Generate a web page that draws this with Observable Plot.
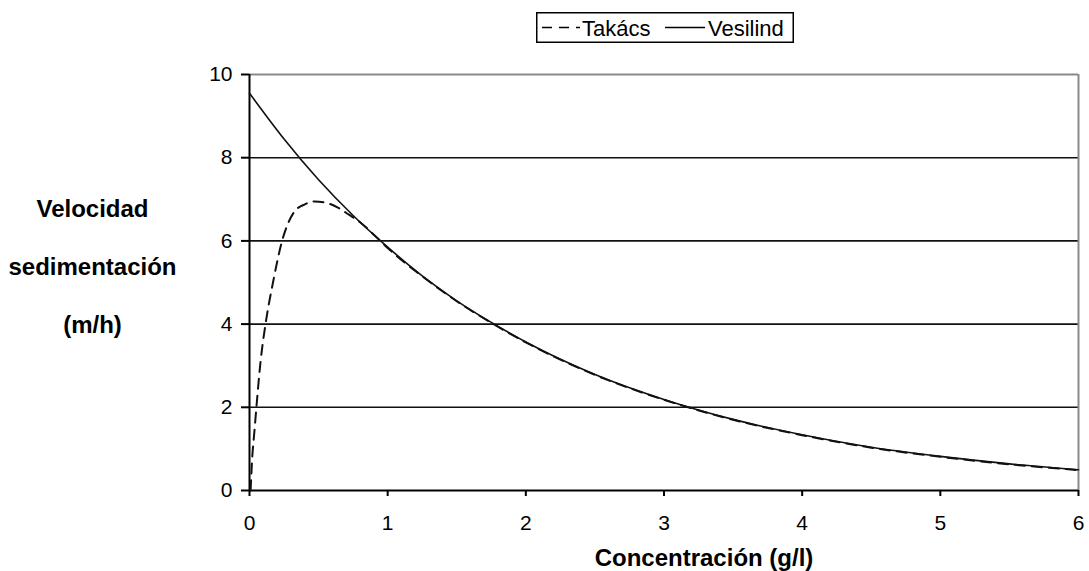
<!DOCTYPE html>
<html>
<head>
<meta charset="utf-8">
<script src="https://cdn.jsdelivr.net/npm/d3@7"></script>
<script src="https://cdn.jsdelivr.net/npm/@observablehq/plot@0.6"></script>
<style>
  body { margin: 0; background: #fff; font-family: "Liberation Sans", Arial, sans-serif; }
  #wrap { position: relative; width: 1089px; height: 571px; overflow: hidden; }
  #legend { position: relative; height: 45px; }
  #legend svg { position: absolute; left: 536px; top: 12px; }
</style>
</head>
<body>
<div id="wrap">
  <div id="legend"></div>
  <div id="chart"></div>
</div>
<script>
// ---- data ----
const seriesNames = ["Takács", "Vesilind"];
const xTicks = [0, 1, 2, 3, 4, 5, 6];
const yTicks = [0, 2, 4, 6, 8, 10];
const gridValues = [2, 4, 6, 8];
const xLabel = "Concentración (g/l)";
const yLabel = "Velocidad\nsedimentación\n(m/h)";

const vesX = [0, 0.25, 0.5, 0.75, 1, 1.25, 1.5, 1.75, 2, 2.5, 3, 3.5, 4, 4.5, 5, 5.5, 6];
const vesY = [9.55, 8.45, 7.47, 6.61, 5.85, 5.16, 4.56, 4.04, 3.57, 2.79, 2.19, 1.71, 1.34, 1.04, 0.82, 0.64, 0.50];

const takX = [0.008, 0.02, 0.035, 0.05, 0.08, 0.116, 0.17, 0.236, 0.32, 0.4, 0.47, 0.55, 0.64, 0.72, 0.8, 0.9, 1, 1.25, 1.5, 1.75, 2, 2.5, 3, 3.5, 4, 4.5, 5, 5.5, 6];
const takY = [0, 0.8, 1.4, 2.0, 3.1, 4.0, 5.0, 6.0, 6.68, 6.88, 6.95, 6.92, 6.8, 6.63, 6.45, 6.15, 5.83, 5.15, 4.55, 4.03, 3.56, 2.78, 2.18, 1.70, 1.33, 1.03, 0.81, 0.63, 0.49];

const vesilind = vesX.map((x, i) => ({x, y: vesY[i]}));
const takacs = takX.map((x, i) => ({x, y: takY[i]}));

// ---- legend ----
const lg = d3.select("#legend").append("svg").attr("width", 258).attr("height", 31);
lg.append("rect").attr("x", 0.75).attr("y", 0.75).attr("width", 256.5).attr("height", 29.5)
  .attr("fill", "#fff").attr("stroke", "#000").attr("stroke-width", 1.5);
lg.append("line").attr("x1", 6).attr("x2", 44).attr("y1", 15.5).attr("y2", 15.5)
  .attr("stroke", "#000").attr("stroke-width", 1.5).attr("stroke-dasharray", "10,7");
lg.append("text").attr("x", 46).attr("y", 23.5).attr("font-size", 22).text(seriesNames[0]);
lg.append("line").attr("x1", 129).attr("x2", 169).attr("y1", 15.5).attr("y2", 15.5)
  .attr("stroke", "#000").attr("stroke-width", 1.5);
lg.append("text").attr("x", 172).attr("y", 23.5).attr("font-size", 22).text(seriesNames[1]);

// ---- chart ----
const chart = Plot.plot({
  width: 1089,
  height: 526,
  marginLeft: 249,
  marginRight: 11,
  marginTop: 29,
  marginBottom: 81,
  style: { fontFamily: "Liberation Sans, Arial, sans-serif", fontSize: "21px", color: "#000", background: "#fff" },
  x: { domain: [0, 6] },
  y: { domain: [0, 10] },
  marks: [
    Plot.ruleY(gridValues, { stroke: "#111", strokeWidth: 1.6 }),
    Plot.ruleY([10], { stroke: "#8a8a8a", strokeWidth: 2 }),
    Plot.ruleX([6], { stroke: "#8a8a8a", strokeWidth: 2 }),
    Plot.axisX({ ticks: xTicks, tickFormat: d => String(d), tickSize: 6, tickPadding: 19, strokeWidth: 2, label: null, fontSize: 21 }),
    Plot.axisY({ ticks: yTicks, tickFormat: d => String(d), tickSize: 8, tickPadding: 9, strokeWidth: 2, label: null, fontSize: 21 }),
    Plot.ruleY([0], { stroke: "#000", strokeWidth: 2 }),
    Plot.ruleX([0], { stroke: "#000", strokeWidth: 2 }),
    Plot.line(vesilind, { x: "x", y: "y", curve: "monotone-x", stroke: "#111", strokeWidth: 1.6 }),
    Plot.line(takacs, { x: "x", y: "y", curve: "monotone-x", stroke: "#111", strokeWidth: 2, strokeDasharray: "10,7" }),
    Plot.text([xLabel], { frameAnchor: "bottom", text: d => d, dx: 40, dy: 68, lineAnchor: "middle", fontSize: 24, fontWeight: "bold", fill: "#000" }),
    Plot.text([yLabel], { frameAnchor: "left", text: d => d, dx: -157, dy: -26, textAnchor: "middle", lineAnchor: "middle", lineHeight: 2.4, fontSize: 24, fontWeight: "bold", fill: "#000" })
  ]
});
document.getElementById("chart").appendChild(chart);
</script>
</body>
</html>
